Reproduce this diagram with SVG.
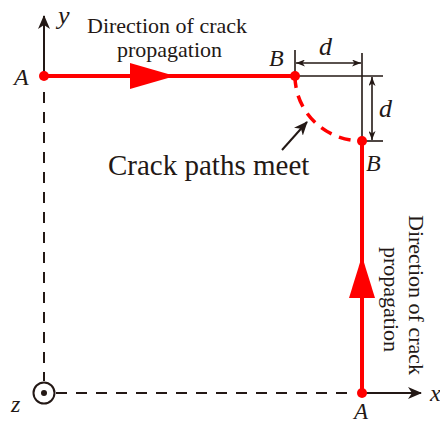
<svg xmlns="http://www.w3.org/2000/svg" width="440" height="424" viewBox="0 0 440 424">
<defs>
<style>
.ax{stroke:#231815;stroke-width:2;fill:none}
.dash{stroke:#231815;stroke-width:2;fill:none;stroke-dasharray:11 9}
.thin{stroke:#231815;stroke-width:1.6;fill:none}
.red{stroke:#ff0000;stroke-width:4;fill:none}
.rdash{stroke:#ff0000;stroke-width:3.5;fill:none;stroke-dasharray:12 8}
.dot{fill:#ff0000}
.tri{fill:#ff0000}
.lbl{font-family:"Liberation Serif","DejaVu Serif",serif;fill:#231815}
.it{font-family:"Liberation Serif","DejaVu Serif",serif;font-style:italic;fill:#231815}
</style>
<marker id="axh" viewBox="0 0 14 12" refX="13" refY="6" markerWidth="14" markerHeight="12" markerUnits="userSpaceOnUse" orient="auto">
<path d="M0,0 L14,6 L0,12 L4,6 Z" fill="#231815"/>
</marker>
<marker id="dh" viewBox="0 0 9 7" refX="9" refY="3.5" markerWidth="9" markerHeight="7" markerUnits="userSpaceOnUse" orient="auto-start-reverse">
<path d="M0,0 L9,3.5 L0,7 L2.5,3.5 Z" fill="#231815"/>
</marker>
</defs>
<g id="axes">
<line class="ax" x1="44" y1="76" x2="44" y2="16" marker-end="url(#axh)"/>
<line class="dash" x1="44" y1="92" x2="44" y2="381"/>
<line class="dash" x1="56" y1="393" x2="356" y2="393"/>
<line class="ax" x1="362" y1="393" x2="421" y2="393" marker-end="url(#axh)"/>
<circle cx="44" cy="393" r="10.5" fill="none" stroke="#231815" stroke-width="2"/>
<circle cx="44" cy="393" r="3" fill="#231815"/>
<text class="it" x="58" y="24" font-size="26">y</text>
<text class="it" x="430" y="401" font-size="24">x</text>
<text class="it" x="11" y="412" font-size="24">z</text>
</g>
<g id="connectors">
<line class="red" x1="44" y1="76" x2="295" y2="76"/>
<polygon class="tri" points="130,63 175,76 130,89"/>
<line class="red" x1="362" y1="141" x2="362" y2="393"/>
<polygon class="tri" points="349,298 362,256 375,298"/>
<path class="rdash" d="M295,76 A67,65 0 0 0 362,141"/>
<line class="ax" x1="282" y1="150" x2="307" y2="122" marker-end="url(#axh)"/>
</g>
<g id="dimensions">
<line class="thin" x1="295" y1="50" x2="295" y2="76"/>
<line class="thin" x1="362" y1="53" x2="362" y2="141"/>
<line class="thin" x1="295" y1="76" x2="383" y2="76"/>
<line class="thin" x1="362" y1="141" x2="383" y2="141"/>
<line class="thin" x1="296" y1="63" x2="361" y2="63" marker-start="url(#dh)" marker-end="url(#dh)"/>
<line class="thin" x1="372" y1="77" x2="372" y2="140" marker-start="url(#dh)" marker-end="url(#dh)"/>
<text class="it" x="319" y="55" font-size="26">d</text>
<text class="it" x="379" y="117" font-size="26">d</text>
</g>
<g id="nodeA1">
<circle class="dot" cx="44" cy="76" r="5"/>
<text class="it" x="14" y="85" font-size="24">A</text>
</g>
<g id="nodeB1">
<circle class="dot" cx="295" cy="76" r="5"/>
<text class="it" x="269" y="66" font-size="24">B</text>
</g>
<g id="nodeB2">
<circle class="dot" cx="362" cy="141" r="5"/>
<text class="it" x="366" y="171" font-size="24">B</text>
</g>
<g id="nodeA2">
<circle class="dot" cx="362" cy="393" r="5"/>
<text class="it" x="354" y="419" font-size="23">A</text>
</g>
<g id="labels">
<text class="lbl" x="87" y="33" font-size="22">Direction of crack</text>
<text class="lbl" x="117" y="57" font-size="22">propagation</text>
<text class="lbl" x="108" y="175" font-size="29">Crack paths meet</text>
<text class="lbl" font-size="22" transform="translate(409,215) rotate(90)">Direction of crack</text>
<text class="lbl" font-size="22" transform="translate(384,247) rotate(90)">propagation</text>
</g>
</svg>
